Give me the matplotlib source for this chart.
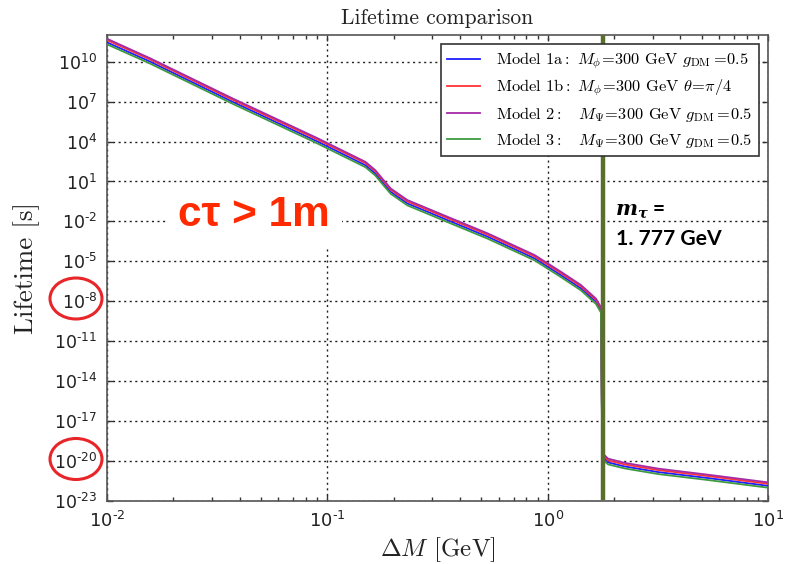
import numpy as np
import matplotlib
matplotlib.use('Agg')
import matplotlib.pyplot as plt
from matplotlib.patches import Ellipse
from matplotlib.font_manager import FontProperties
from matplotlib.ticker import FixedLocator, FuncFormatter, LogLocator, NullLocator

# mass splitting Delta M [GeV]
dm = [0.0100, 0.0157, 0.0370, 0.0902, 0.149, 0.165, 0.180, 0.194, 0.231, 0.358, 0.536,
      0.873, 1.148, 1.416, 1.656, 1.746, 1.770, 1.88, 2.23, 3.18, 5.37, 10.0]

# log10 of lifetime [s] for each model
life_1a = [11.45, 10.0, 7.0, 4.0, 2.22, 1.6, 0.85, 0.22, -0.65, -1.96, -3.16,
           -4.78, -6.03, -7.03, -8.03, -8.66, -19.66, -20.1, -20.4, -20.83, -21.28, -21.86]
life_1b = [11.62, 10.16, 7.15, 4.15, 2.38, 1.76, 1.01, 0.38, -0.5, -1.81, -3.01,
           -4.63, -5.88, -6.88, -7.9, -8.55, -19.5, -19.95, -20.25, -20.68, -21.13, -21.71]
life_2 = [11.72, 10.25, 7.25, 4.25, 2.47, 1.85, 1.1, 0.47, -0.4, -1.71, -2.91,
          -4.53, -5.78, -6.78, -7.8, -8.45, -19.4, -19.82, -20.13, -20.57, -21.03, -21.6]
life_3 = [11.3, 9.85, 6.85, 3.85, 2.07, 1.45, 0.7, 0.07, -0.8, -2.11, -3.31,
          -4.93, -6.18, -7.18, -8.2, -8.85, -19.85, -20.25, -20.55, -20.98, -21.43, -22.0]

labels = [r'Model 1a$:\ M_{\phi}\!=\!300$ GeV $g_{\rm DM}\,\!=\!0.5$',
          r'Model 1b$:\ M_{\phi}\!=\!300$ GeV $\theta\!=\!\pi/4$',
          r'Model 2$:\quad M_{\Psi}\!=\!300$ GeV $g_{\rm DM}\,\!=\!0.5$',
          r'Model 3$:\quad M_{\Psi}\!=\!300$ GeV $g_{\rm DM}\,\!=\!0.5$']
colors = ['#1f1fff', '#ff3333', '#a52aa5', '#3f9a3f']

m_tau = 1.777
ytick_exp = [10, 7, 4, 1, -2, -5, -8, -11, -14, -17, -20, -23]

W, H = 788, 564
fig = plt.figure(figsize=(W / 100, H / 100), dpi=100)
ax = fig.add_axes([107 / W, 1 - 501 / H, (768 - 107) / W, (501 - 35) / H])

for y, c, lab in zip([life_1a, life_1b, life_2, life_3], colors, labels):
    ax.plot(dm, np.power(10.0, y), color=c, lw=1.3, label=lab, zorder=3)

ax.axvline(m_tau, ymin=0.006, ymax=1, color='#5a6e2e', lw=3.2, zorder=4)

ax.set_xscale('log')
ax.set_yscale('log')
ax.set_xlim(1e-2, 1e1)
ax.set_ylim(1e-23, 1e12)


def exp_label(v, pos):
    k = int(round(np.log10(v)))
    if k < 0:
        return r'$10^{\text{-%d}}$' % (-k)
    return r'$10^{%d}$' % k


ax.yaxis.set_major_locator(FixedLocator([10.0 ** k for k in ytick_exp]))
ax.yaxis.set_minor_locator(NullLocator())
ax.xaxis.set_major_locator(LogLocator(base=10))
ax.xaxis.set_minor_locator(LogLocator(base=10, subs=np.arange(2, 10)))
ax.xaxis.set_major_formatter(FuncFormatter(exp_label))
ax.yaxis.set_major_formatter(FuncFormatter(exp_label))

ax.tick_params(axis='both', which='both', direction='in', top=True, right=True,
               colors='#333333')
ax.tick_params(axis='both', which='major', length=4, width=1)
ax.tick_params(axis='x', which='minor', length=3, width=1)
ax.tick_params(axis='y', which='major', pad=7, labelsize=12.5, labelcolor='#222222')
ax.tick_params(axis='x', which='major', pad=7, labelsize=13, labelcolor='#222222')
for t in ax.get_xticklabels() + ax.get_yticklabels():
    t.set_math_fontfamily('dejavusans')
for s in ax.spines.values():
    s.set_color('#555555')
    s.set_linewidth(1.2)

ax.grid(True, which='major', color='#222222', linestyle=(0, (1.5, 2.5)), lw=1.0)
ax.set_axisbelow(True)

ax.set_title('Lifetime comparison', fontfamily='cmr10', fontsize=15.5, pad=8,
             color='#222222')
ax.set_xlabel(r'$\Delta M$ [GeV]', fontfamily='cmr10', fontsize=18,
              math_fontfamily='cm', labelpad=3, color='#222222')
ax.set_ylabel('Lifetime [s]', fontfamily='cmr10', fontsize=19.5,
              labelpad=10, color='#222222')

leg_font = FontProperties(family='cmr10', size=11.8, math_fontfamily='cm')
leg = ax.legend(loc='upper right', prop=leg_font, frameon=True, fancybox=False,
                framealpha=1, edgecolor='#333333', borderaxespad=0.55,
                handlelength=2.0, labelspacing=0.4, borderpad=0.4,
                handletextpad=1.0)
leg.get_frame().set_linewidth(1.2)
leg.set_zorder(5)

# annotations
fig.text(178 / W, 1 - 226 / H, u'c\u03c4 > 1m', fontsize=30.5, fontweight='bold',
         family='Liberation Sans', color='#ff2a00', va='baseline', ha='left',
         bbox=dict(boxstyle='square,pad=0.28', fc='white', ec='none'), zorder=6)
fig.text(615 / W, 1 - 215 / H, r'$\mathbfit{m}_{\mathbfit{\tau}}$ =', fontsize=15,
         fontweight='bold', family='Lato', math_fontfamily='dejavuserif',
         va='baseline', ha='left')
fig.text(616 / W, 1 - 245 / H, '1. 777 GeV', fontsize=15.2, fontweight='bold',
         family='Lato', va='baseline', ha='left')

for cy in [298.5, 459]:
    fig.patches.append(Ellipse((76 / W, 1 - cy / H), 52 / W, 41 / H,
                               transform=fig.transFigure, fill=False,
                               ec='#e8262a', lw=2.2))

fig.savefig('out.png', dpi=100)
